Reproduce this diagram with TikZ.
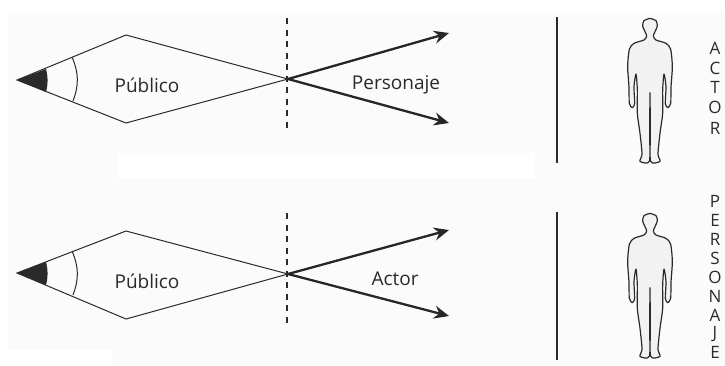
\documentclass[tikz,border=0pt]{standalone}
\usepackage{fontspec}
\setmainfont{Open Sans}
\usetikzlibrary{arrows.meta}
\definecolor{ink}{HTML}{2A2A2A}
\definecolor{paper}{HTML}{FBFBFB}
\tikzset{
  thinline/.style={draw=ink,line width=1pt},
  ray/.style={draw=ink!90!black,line width=2.3pt,-{Stealth[length=15pt,width=13pt,inset=5pt]}},
  cutline/.style={draw=ink,line width=1.5pt,dash pattern=on 6pt off 5.5pt},
  rule/.style={draw=ink,line width=1.2pt},
  label/.style={text=ink,font=\fontsize{19}{22}\selectfont,inner sep=0pt},
  letter/.style={text=ink,font=\fontsize{17}{20}\selectfont,inner sep=0pt},
  body/.style={draw=ink,line width=1.2pt,fill=black!5,line join=round},
}
\newcommand{\bodyshape}[1]{%
  \begin{scope}[shift={(600,#1)},x=0.3333pt,y=-0.3333pt]
    \draw[body] plot[smooth,tension=0.45] coordinates {
      (150,55)(168,62)(172,78)(165,95)(160,108)(168,120)(198,130)(212,148)(217,200)(213,262)(212,310)(203,323)(196,310)(198,260)(192,222)(188,270)(188,340)(180,400)(174,462)(180,484)(152,484)(151,400)(150,278)(149,400)(148,484)(120,484)(126,462)(120,400)(112,340)(112,270)(108,222)(102,260)(104,310)(97,323)(88,310)(87,262)(83,200)(88,148)(102,130)(132,120)(140,108)(135,95)(128,78)(132,62)(150,55)};
  \end{scope}}
\begin{document}
\begin{tikzpicture}[x=1pt,y=-1pt]
  \useasboundingbox (0,0) rectangle (725,365);
  \clip (0,0) rectangle (725,365);
  \fill[paper] (8,12) rectangle (725,365);
  \fill[white] (118,153) rectangle (535,178);
  \fill[white] (0,350) rectangle (112,365);

  % top diagram
  \coordinate (tipA) at (17,80);
  \coordinate (upA) at (126,35);
  \coordinate (downA) at (126,123);
  \coordinate (crossA) at (288,79);
  \coordinate (cutAt) at (287,18);
  \coordinate (cutAb) at (287,130);
  \coordinate (endAu) at (449,33);
  \coordinate (endAd) at (449,123);
  \coordinate (ruleAt) at (557,17);
  \coordinate (ruleAb) at (557,163);
  \fill[ink] (tipA) -- (46,69) to[bend left=14] (46,92) -- cycle;
  \draw[thinline] (tipA) -- (upA) -- (crossA) -- (downA) -- cycle;
  \draw[thinline] (72,57) to[bend left=22] (73,101);
  \draw[cutline] (cutAt) -- (cutAb);
  \draw[ray] (crossA) -- (endAu);
  \draw[ray] (crossA) -- (endAd);
  \draw[rule] (ruleAt) -- (ruleAb);
  \node[label] (pubA) at (147,85) {Público};
  \node[label] (per) at (396,85) {Personaje};
  \bodyshape{0}
  \foreach \c/\y in {A/48,C/68,T/87,O/107,R/128}
    \node[letter] (a\c) at (715,\y) {\c};

  % bottom diagram
  \coordinate (tipB) at (17,273);
  \coordinate (upB) at (126,231);
  \coordinate (downB) at (126,319);
  \coordinate (crossB) at (288,274);
  \coordinate (cutBt) at (287,213);
  \coordinate (cutBb) at (287,326);
  \coordinate (endBu) at (449,230);
  \coordinate (endBd) at (449,316);
  \coordinate (ruleBt) at (557,212);
  \coordinate (ruleBb) at (557,360);
  \fill[ink] (tipB) -- (46,262) to[bend left=14] (46,285) -- cycle;
  \draw[thinline] (tipB) -- (upB) -- (crossB) -- (downB) -- cycle;
  \draw[thinline] (72,251) to[bend left=22] (73,295);
  \draw[cutline] (cutBt) -- (cutBb);
  \draw[ray] (crossB) -- (endBu);
  \draw[ray] (crossB) -- (endBd);
  \draw[rule] (ruleBt) -- (ruleBb);
  \node[label] (pubB) at (147,281) {Público};
  \node[label] (act) at (395,279) {Actor};
  \bodyshape{195}
  \foreach \c/\y [count=\i] in {P/201,E/220,R/239,S/258,O/277,N/296,A/315,J/334,E/352}
    \node[letter] (p\i) at (715,\y) {\c};
\end{tikzpicture}
\end{document}
